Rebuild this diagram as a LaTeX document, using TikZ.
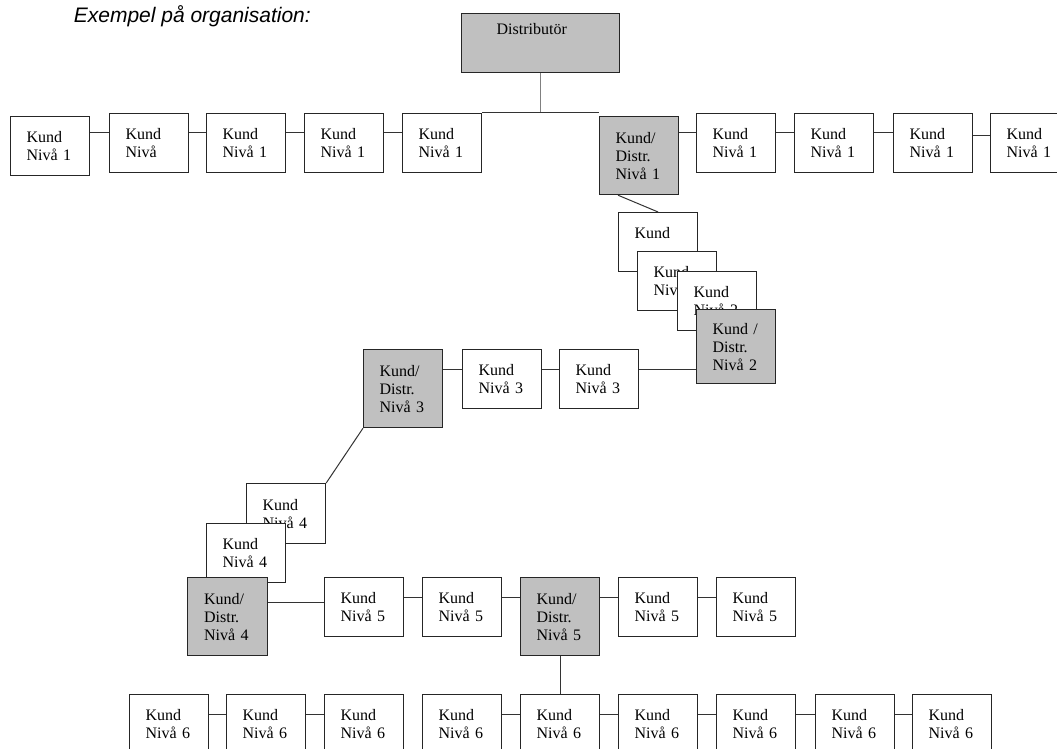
\documentclass[tikz,border=0pt]{standalone}
\usepackage{fontspec}
\setmainfont{Liberation Serif}
\newfontfamily\titlefont{Liberation Sans}
\usepackage[dvipsnames]{xcolor}
\usepackage{tikz}
\usetikzlibrary{shapes}
\definecolor{boxgray}{HTML}{C0C0C0}

\begin{document}
\begin{tikzpicture}[x=1pt, y=-1pt, line width=1pt,
    kund/.style = {draw=black!85, line width=1.2pt, fill=white, anchor=north west,
      minimum width=79pt, minimum height=59pt, text width=47pt, inner xsep=16pt,
      align=left, font=\fontsize{16}{18}\selectfont},
    distr/.style = {kund, fill=boxgray, minimum height=78pt},
    link/.style = {draw=black!80, line width=1pt}]
    \useasboundingbox (0,0) rectangle (1057,749);

    % title and top box
    \node[anchor=base west, font=\titlefont\itshape\fontsize{21}{25}\selectfont] (title) at (70,23) {Exempel på organisation:};
    \node[kund, fill=boxgray, minimum width=158pt, text width=88pt, inner xsep=35pt, text depth=28pt] (dist) at (461,13) {Distributör};

    % draw level 1
    \node[kund] (k11) at (10,116) {Kund\\Nivå 1};
    \node[kund] (k12) at (109,113) {Kund\\Nivå};
    \node[kund] (k13) at (206,113) {Kund\\Nivå 1};
    \node[kund] (k14) at (304,113) {Kund\\Nivå 1};
    \node[kund] (k15) at (402,113) {Kund\\Nivå 1};
    \node[distr] (d1) at (599,116) {Kund/\\Distr.\\Nivå 1};
    \foreach \i/\x in {1/696, 2/794, 3/893, 4/990}
      \node[kund] (r\i) at (\x,113) {Kund\\Nivå 1};

    % draw level 2, stacked
    \node[kund, text depth=18pt] (k2a) at (618,212) {Kund};
    \node[kund] (k2b) at (637,251) {Kund\\Nivå 2};
    \node[kund] (k2c) at (677,271) {Kund\\Nivå 2};
    \node[distr, minimum height=74pt] (d2) at (696,309) {Kund /\\Distr.\\Nivå 2};

    % draw level 3
    \node[distr] (d3) at (363,349) {Kund/\\Distr.\\Nivå 3};
    \node[kund] (k3a) at (462,349) {Kund\\Nivå 3};
    \node[kund] (k3b) at (559,349) {Kund\\Nivå 3};

    % draw level 4, stacked
    \node[kund, minimum height=60pt] (k4a) at (246,483) {Kund\\Nivå 4};
    \node[kund] (k4b) at (206,523) {Kund\\Nivå 4};
    \node[distr, minimum width=80pt] (d4) at (187,577) {Kund/\\Distr.\\Nivå 4};

    % draw level 5
    \node[kund] (k5a) at (324,577) {Kund\\Nivå 5};
    \node[kund] (k5b) at (422,577) {Kund\\Nivå 5};
    \node[distr] (d5) at (520,577) {Kund/\\Distr.\\Nivå 5};
    \node[kund] (k5c) at (618,577) {Kund\\Nivå 5};
    \node[kund] (k5d) at (716,577) {Kund\\Nivå 5};

    % draw level 6
    \foreach \i/\x in {1/129, 2/226, 3/324, 4/422, 5/520, 6/618, 7/716, 8/815, 9/912}
      \node[kund] (k6\i) at (\x,694) {Kund\\Nivå 6};

    % draw connectors
    \draw[link, draw=gray] (dist.south) -- (dist.south |- k15.north);
    \draw[link] (k15.north east) -- (k15.north -| d1.west);
    \draw[link] ([xshift=19pt]d1.south west) -- (k2a.north);
    \draw[link] (d3.south west) -- (k4a.north east);
    \draw[link] (d5.south) -- (k65.north);
    \foreach \a/\b/\h in {k11/k12/133, k12/k13/133, k13/k14/133, k14/k15/133,
        d1/r1/133, r1/r2/133, r2/r3/133, r3/r4/136,
        d3/k3a/369, k3a/k3b/369, k3b/d2/369,
        d4/k5a/602, k5a/k5b/597, k5b/d5/597, d5/k5c/597, k5c/k5d/597,
        k61/k62/714, k62/k63/714, k64/k65/714, k65/k66/714, k66/k67/714, k67/k68/714, k68/k69/714}
      \draw[link] (\a.east |- 0,\h) -- (\b.west |- 0,\h);

\end{tikzpicture}
\end{document}
